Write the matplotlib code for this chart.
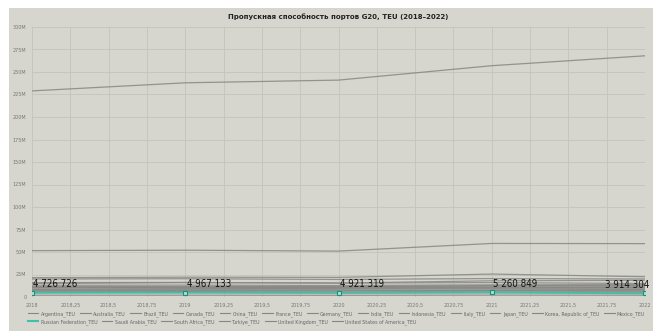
import matplotlib
matplotlib.use("Agg")
import matplotlib.pyplot as plt
from matplotlib.patches import Rectangle
from matplotlib.lines import Line2D
import numpy as np

years = [2018, 2019, 2020, 2021, 2022]

# TEU, millions
argentina = [2.0, 2.0, 1.9, 2.1, 2.0]
australia = [8.3, 8.4, 8.5, 8.9, 8.6]
brazil = [10.6, 10.9, 11.2, 12.3, 12.1]
canada = [6.9, 7.0, 6.9, 7.3, 7.4]
china = [229.0, 238.0, 241.0, 257.0, 268.0]
france = [5.7, 6.0, 5.4, 6.5, 6.1]
germany = [16.0, 16.2, 15.5, 16.0, 15.0]
india = [15.0, 16.0, 15.5, 18.0, 18.5]
indonesia = [13.0, 13.2, 12.8, 13.5, 13.8]
italy = [10.6, 10.8, 10.6, 11.1, 10.7]
japan = [20.0, 20.3, 19.5, 20.5, 20.0]
korea = [21.5, 22.0, 21.8, 25.5, 22.5]
mexico = [6.9, 7.0, 6.8, 7.6, 8.1]
russia = [4726726, 4967133, 4921319, 5260849, 3914304]
saudi = [8.7, 9.3, 9.9, 10.6, 10.3]
south_africa = [4.8, 4.7, 4.3, 4.6, 4.7]
turkiye = [11.5, 11.6, 11.6, 12.6, 12.6]
uk = [10.1, 10.0, 9.5, 9.7, 9.9]
usa = [51.5, 52.0, 51.0, 59.5, 59.3]

names = ["Argentina_TEU", "Australia_TEU", "Brazil_TEU", "Canada_TEU", "China_TEU",
         "France_TEU", "Germany_TEU", "India_TEU", "Indonesia_TEU", "Italy_TEU",
         "Japan_TEU", "Korea, Republic of_TEU", "Mexico_TEU",
         "Russian Federation_TEU", "Saudi Arabia_TEU", "South Africa_TEU",
         "Turkiye_TEU", "United Kingdom_TEU", "United States of America_TEU"]
series = [argentina, australia, brazil, canada, china, france, germany, india,
          indonesia, italy, japan, korea, mexico, None, saudi, south_africa,
          turkiye, uk, usa]

title = "Пропускная способность портов G20, TEU (2018–2022)"

BG = "#d6d6cf"
GRID = "#c3c3bb"
LINE = "#878783"
TEAL = "#3fc0a8"
FONT = ["Liberation Sans Narrow", "DejaVu Sans"]

fig = plt.figure(figsize=(6.53, 3.31), dpi=100)
fig.patch.set_facecolor("white")
fig.patches.append(Rectangle((9 / 653, 0), 1, (331 - 8) / 331, transform=fig.transFigure,
                             facecolor=BG, edgecolor="none", zorder=-10))

ax = fig.add_axes([32 / 653, 34 / 331, 613 / 653, 270 / 331])
ax.set_facecolor(BG)

for name, vals in zip(names, series):
    if vals is None:
        continue
    ax.plot(years, np.array(vals) * 1e6, color=LINE, lw=0.9, alpha=0.85, zorder=2)

ax.plot(years, russia, color=TEAL, lw=1.3, marker="s", ms=3,
        mfc="#9fe3d4", mec="#1f8f7a", mew=0.8, zorder=4)
for i, (x, v) in enumerate(zip(years, russia)):
    s = "{:,}".format(v).replace(",", " ")
    dx = 1 if i < len(years) - 1 else -29
    ax.annotate(s, (x, v), xytext=(dx, 4), textcoords="offset points",
                fontsize=7, color="#111111", family="DejaVu Sans",
                fontstretch="condensed", clip_on=False, zorder=5)

ax.set_xlim(2018, 2022)
ax.set_ylim(0, 300e6)
xt = np.arange(2018, 2022.01, 0.25)
ax.set_xticks(xt)
ax.set_xticklabels([("%g" % t).replace(".", ",") for t in xt], fontsize=3.5,
                   color="#777777", family=FONT)
yt = np.arange(0, 300e6 + 1, 25e6)
ax.set_yticks(yt)
ax.set_yticklabels(["0"] + ["%dM" % (t / 1e6) for t in yt[1:]], fontsize=3.5,
                   color="#777777", family=FONT)
ax.tick_params(length=0, pad=4)
ax.grid(True, color=GRID, lw=0.6)
for sp in ax.spines.values():
    sp.set_visible(False)

fig.text(338 / 653, 1 - 17 / 331, title, ha="center", va="center", fontsize=5,
         color="#222222", family=FONT, fontweight="bold")

def handle(c, lw=0.8):
    return Line2D([], [], color=c, lw=lw)

row1 = names[:13]
row2 = names[13:]
h1 = [handle(LINE) for _ in row1]
h2 = [handle(TEAL, 1.5)] + [handle(LINE) for _ in row2[1:]]
fig.legend(h1, row1, loc="upper left", bbox_to_anchor=(28 / 653, 1 - 311 / 331),
           ncol=13, frameon=False, handlelength=2.2,
           columnspacing=1.0, handletextpad=0.5, borderpad=0, borderaxespad=0,
           labelcolor="#666666", prop={"family": FONT, "size": 3.4})
fig.legend(h2, row2, loc="upper left", bbox_to_anchor=(28 / 653, 1 - 319 / 331),
           ncol=6, frameon=False, handlelength=2.2,
           columnspacing=1.0, handletextpad=0.5, borderpad=0, borderaxespad=0,
           labelcolor="#666666", prop={"family": FONT, "size": 3.4})

fig.savefig("out.png", dpi=100, facecolor="white")
